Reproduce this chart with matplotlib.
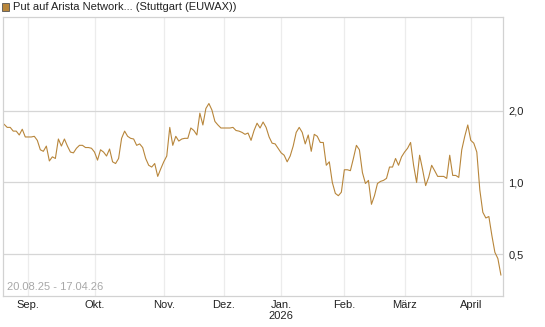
import numpy as np
import pandas as pd
import matplotlib
matplotlib.use("Agg")
import matplotlib.pyplot as plt
from matplotlib.patches import Rectangle

plt.rcParams['font.family'] = ['Liberation Sans', 'DejaVu Sans']

# Handelstage Stuttgart 20.08.25 - 17.04.26
holidays = ['2025-12-24', '2025-12-25', '2025-12-26', '2025-12-31',
            '2026-01-01', '2026-04-03', '2026-04-06']
dates = pd.bdate_range('2025-08-20', '2026-04-17', freq='C', holidays=holidays)

prices = [
    1.75, 1.70, 1.70, 1.64, 1.64, 1.58, 1.67, 1.55, 1.55, 1.55,
    1.56, 1.50, 1.37, 1.35, 1.42, 1.23, 1.28, 1.26, 1.52, 1.42,
    1.52, 1.42, 1.34, 1.33, 1.39, 1.43, 1.43, 1.40, 1.40, 1.39,
    1.34, 1.24, 1.37, 1.34, 1.29, 1.38, 1.22, 1.20, 1.26, 1.53,
    1.64, 1.56, 1.53, 1.52, 1.43, 1.45, 1.40, 1.26, 1.18, 1.16,
    1.20, 1.06, 1.14, 1.22, 1.29, 1.70, 1.43, 1.56, 1.49, 1.52,
    1.53, 1.53, 1.69, 1.65, 1.58, 1.95, 1.74, 2.04, 2.14, 2.01,
    1.80, 1.74, 1.69, 1.69, 1.69, 1.69, 1.70, 1.65, 1.64, 1.62,
    1.59, 1.61, 1.50, 1.65, 1.77, 1.69, 1.79, 1.70, 1.55, 1.46,
    1.45, 1.39, 1.33, 1.30, 1.22, 1.29, 1.42, 1.62, 1.70, 1.62,
    1.45, 1.58, 1.35, 1.59, 1.56, 1.47, 1.47, 1.18, 1.22, 1.00,
    0.90, 0.88, 0.91, 1.13, 1.13, 1.12, 1.26, 1.43, 1.37, 1.10,
    0.99, 1.02, 0.81, 0.88, 0.99, 1.01, 1.02, 1.04, 1.16, 1.16,
    1.26, 1.18, 1.28, 1.34, 1.39, 1.47, 1.18, 1.00, 1.30, 1.13,
    0.97, 1.05, 1.18, 1.12, 1.06, 1.06, 1.06, 1.04, 1.30, 1.07,
    1.07, 1.05, 1.37, 1.56, 1.74, 1.50, 1.46, 1.34, 0.93, 0.75,
    0.71, 0.72, 0.60, 0.51, 0.48, 0.41,
]

month_labels = ['Sep.', 'Okt.', 'Nov.', 'Dez.', 'Jan.\n2026', 'Feb.', 'März', 'April']
y_ticks = [0.5, 1.0, 2.0]
y_labels = ['0,5', '1,0', '2,0']

line_color = '#b8863b'

idx = np.arange(len(dates))
months = dates.to_period('M')
month_pos = [i for i in idx[1:] if months[i] != months[i - 1]]

fig = plt.figure(figsize=(5.45, 3.27), dpi=100)
ax = fig.add_axes([3 / 545, 1 - 295.6 / 327, 500 / 545, (295.6 - 16.5) / 327])

ax.plot(idx, prices[:len(idx)], color=line_color, linewidth=0.8)

ax.set_yscale('log')
ax.set_ylim(0.336, 4.95)
ax.set_xlim(-0.4, 165.7)

ax.set_yticks(y_ticks)
ax.set_yticklabels(y_labels)
ax.yaxis.set_minor_locator(matplotlib.ticker.NullLocator())
ax.yaxis.tick_right()
ax.set_xticks(month_pos)
ax.set_xticklabels(month_labels)

ax.tick_params(axis='both', length=0, labelsize=8, colors='#222222')
ax.tick_params(axis='y', pad=4)
ax.tick_params(axis='x', pad=3)

for p in month_pos:
    ax.axvline(p, color='#ececec', linewidth=0.9, zorder=0)
for t in y_ticks:
    ax.axhline(t, color='#d6d6d6', linewidth=0.9, zorder=0)

for s in ax.spines.values():
    s.set_color('#d2d2d2')
    s.set_linewidth(0.9)

ax.text(0.008, 0.012, '20.08.25 - 17.04.26', transform=ax.transAxes,
        fontsize=8, color='#a8a8a8', ha='left', va='bottom')

# Legende oben links
fig.patches.append(Rectangle((2 / 545, 1 - 10.5 / 327), 7 / 545, 7 / 327,
                             transform=fig.transFigure, facecolor=line_color,
                             edgecolor='#555555', linewidth=0.6))
fig.text(13 / 545, 1 - 7 / 327, 'Put auf Arista Network... (Stuttgart (EUWAX))',
         fontsize=8, color='#222222', ha='left', va='center')

plt.savefig('out.png', dpi=100)
